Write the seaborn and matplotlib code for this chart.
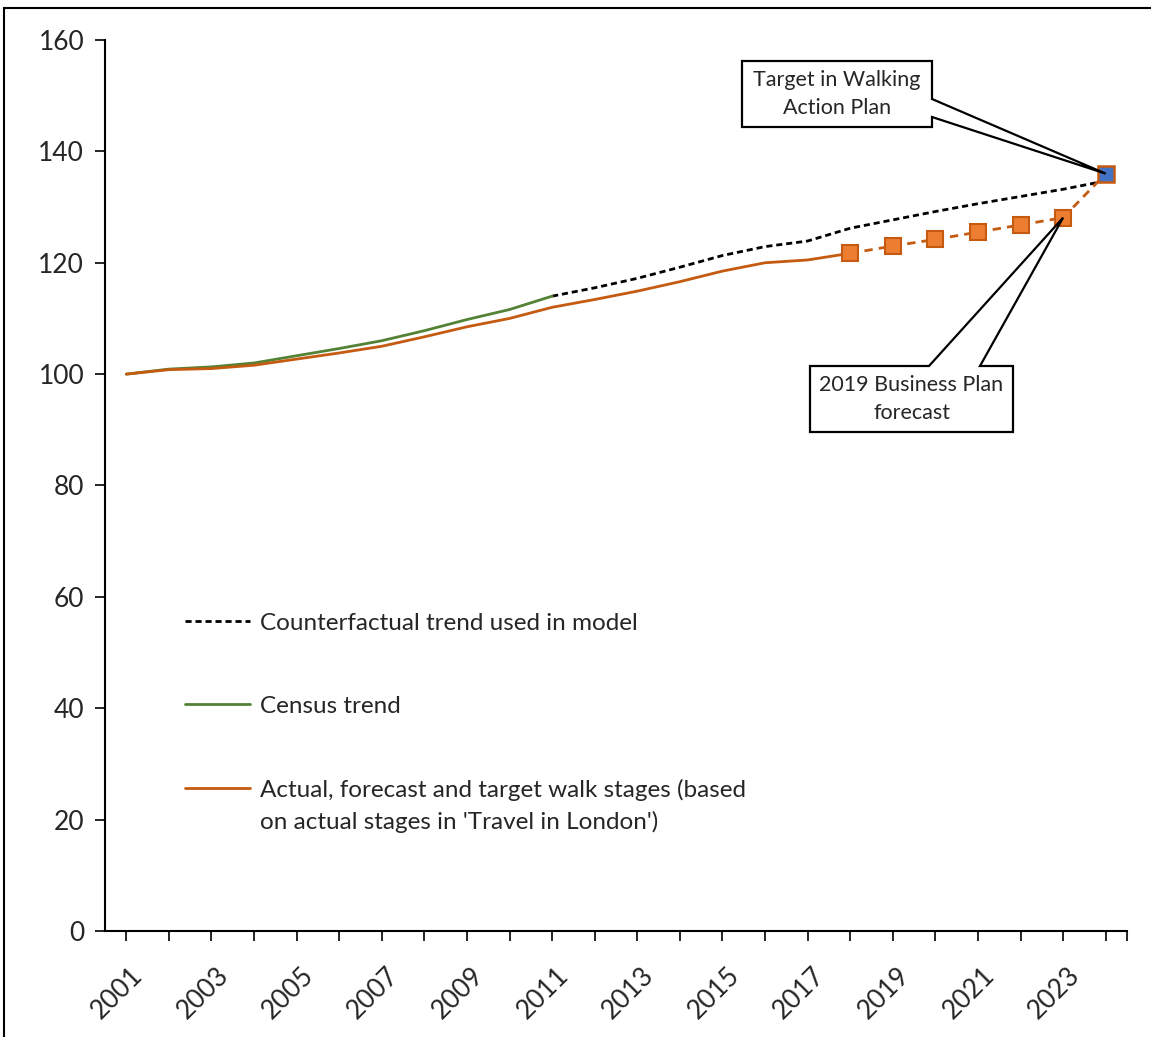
import numpy as np
import pandas as pd
import seaborn as sns
import matplotlib.pyplot as plt
from matplotlib.patches import Polygon, Rectangle
from matplotlib.transforms import IdentityTransform, offset_copy

sns.set_theme(style="white")
plt.rcParams['font.family'] = ['Lato', 'DejaVu Sans']

# Index of walk stages (2001 = 100)
census_years = list(range(2001, 2012))
census_trend = [100, 100.9, 101.3, 102.0, 103.3, 104.6, 106.0, 107.8, 109.8, 111.6, 114.0]

counter_years = list(range(2011, 2025))
counterfactual = [114.0, 115.5, 117.2, 119.2, 121.3, 122.9, 123.9, 126.2, 127.7,
                  129.2, 130.6, 131.9, 133.2, 134.7]

actual_years = list(range(2001, 2019))
actual_stages = [100, 100.8, 101.0, 101.6, 102.7, 103.8, 105.0, 106.7, 108.5, 110.0,
                 112.0, 113.4, 114.9, 116.6, 118.5, 120.0, 120.5, 121.7]

forecast_years = list(range(2018, 2024))
forecast_stages = [121.7, 123.0, 124.2, 125.5, 126.8, 128.1]

target_year = [2023, 2024]
target_stages = [128.1, 136.0]

all_years = list(range(2001, 2025))

ORANGE_LINE = "#C55A11"
ORANGE_FILL = "#ED7D31"
GREEN = "#548235"
BLUE = "#4472C4"

W, H = 1151, 1037
fig = plt.figure(figsize=(W / 100, H / 100), dpi=100)
ax = fig.add_axes([105 / W, 1 - 931 / H, (1127 - 105) / W, (931 - 40) / H])

sns.lineplot(x=counter_years, y=counterfactual, ax=ax, color="black",
             linewidth=2.0, linestyle=(0, (2.2, 1.4)), label="Counterfactual trend used in model")
sns.lineplot(x=census_years, y=census_trend, ax=ax, color=GREEN, linewidth=2.0,
             label="Census trend")
sns.lineplot(x=actual_years, y=actual_stages, ax=ax, color=ORANGE_LINE, linewidth=2.0,
             label="Actual, forecast and target walk stages (based")
sns.lineplot(x=target_year, y=target_stages, ax=ax, color=ORANGE_LINE, linewidth=2.0,
             linestyle=(0, (3, 2.2)))
sns.lineplot(x=forecast_years, y=forecast_stages, ax=ax, color=ORANGE_LINE, linewidth=2.0,
             linestyle=(0, (3, 2.2)), marker="s", markersize=11,
             markerfacecolor=ORANGE_FILL, markeredgecolor=ORANGE_LINE, markeredgewidth=1.5)
ax.plot([target_year[-1]], [target_stages[-1]], marker="s", markersize=12, linestyle="none",
        markerfacecolor=BLUE, markeredgecolor=ORANGE_LINE, markeredgewidth=1.8)

ax.set_xlim(2000.5, 2024.5)
ax.set_ylim(0, 160)
ax.set_yticks(range(0, 161, 20))

# a tick under every year plus one closing the axis; labels on odd years
ax.set_xticks(all_years + [2024.5])
ax.set_xticklabels([str(y) if y % 2 == 1 else "" for y in all_years] + [""],
                   rotation=45, ha="right", rotation_mode="anchor", fontsize=19)
ax.tick_params(axis="x", length=7, width=1.2, color="black", direction="out", pad=7)
ax.tick_params(axis="y", length=7, width=1.2, color="black", direction="out", labelsize=19, pad=8)
ax.xaxis.set_tick_params(bottom=True)
ax.yaxis.set_tick_params(left=True)
for tick in ax.xaxis.get_major_ticks():
    tick.label1.set_transform(offset_copy(tick.label1.get_transform(), fig=fig,
                                          x=4, y=-12, units="dots"))

for side in ["top", "right"]:
    ax.spines[side].set_visible(False)
for side in ["left", "bottom"]:
    ax.spines[side].set_color("black")
    ax.spines[side].set_linewidth(1.5)
ax.set_xlabel("")
ax.set_ylabel("")

leg = ax.legend(loc="upper left", bbox_to_anchor=(0.057, 0.382), frameon=False,
                fontsize=17.5, handlelength=2.67, handletextpad=0.41, labelspacing=2.55)
# second line of the last legend entry, set under the first line
ax.annotate("on actual stages in 'Travel in London')", xy=(0, 0),
            xycoords=leg.get_texts()[2], xytext=(0, -32), textcoords="offset pixels",
            ha="left", va="bottom", fontsize=17.5, zorder=7)

# Callout boxes with wedge pointers, drawn in display pixels
def px(x, y):
    return (x, H - y)

def callout(box, base1, base2, tip, text):
    x0, y0, x1, y1 = box
    if base1[0] == x1:
        pts = [(x0, y0), (x1, y0), base1, tip, base2, (x1, y1), (x0, y1)]
    else:
        pts = [(x0, y0), base1, tip, base2, (x1, y0), (x1, y1), (x0, y1)]
    poly = Polygon([px(*p) for p in pts], closed=True, transform=IdentityTransform(),
                   facecolor="white", edgecolor="black", linewidth=1.6, zorder=5)
    fig.add_artist(poly)
    fig.text((x0 + x1) / 2 / W, 1 - (y0 + y1) / 2 / H, text, ha="center", va="center",
             fontsize=15.5, linespacing=1.45, zorder=6)

tip1 = ax.transData.transform((2024, 136.0))
tip2 = ax.transData.transform((2023, 128.1))
callout((742, 61, 932, 127), (932, 99), (932, 117), (tip1[0], H - tip1[1]),
        "Target in Walking\nAction Plan")
callout((810, 366, 1013, 432), (929, 366), (980, 366), (tip2[0], H - tip2[1]),
        "2019 Business Plan\nforecast")

# Outer frame of the chart area
fig.add_artist(Rectangle((4 / W, -0.1), 1.2, 1 - 8 / H + 0.1, transform=fig.transFigure,
                         fill=False, edgecolor="black", linewidth=1.5))

fig.savefig("out.png", dpi=100)
